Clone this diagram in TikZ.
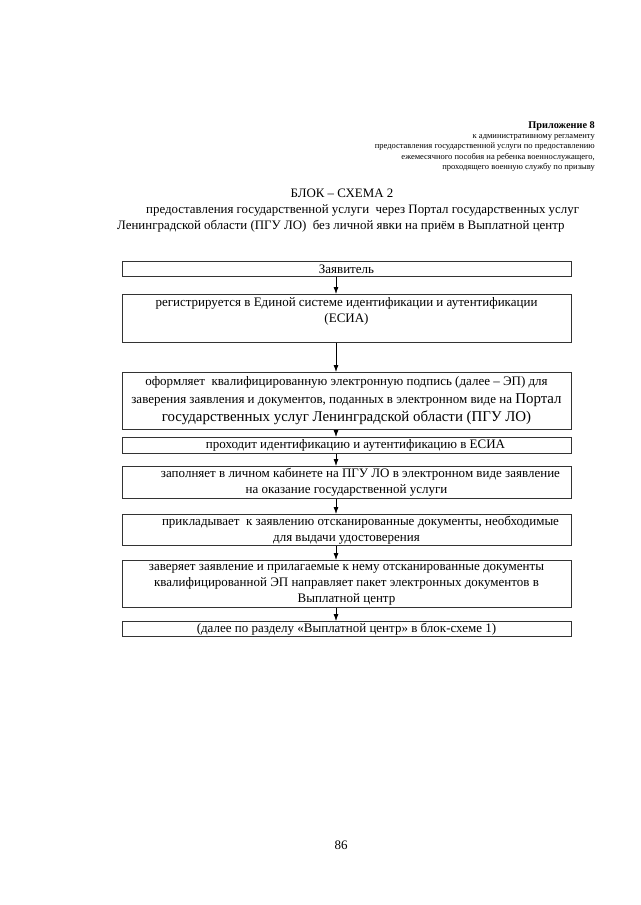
\documentclass[tikz,border=0pt]{standalone}
\usepackage{fontspec}
\setmainfont{Liberation Serif}
\usetikzlibrary{arrows.meta}
\tikzset{
  box/.style={draw=black!80, line width=0.8pt, minimum width=449pt, inner sep=0pt, anchor=north, align=center, font=\fontsize{13}{16}\selectfont},
  txt/.style={inner sep=0pt, align=center, font=\fontsize{13}{16}\selectfont},
  hdr/.style={inner sep=0pt, anchor=east, font=\fontsize{8.5}{9}\selectfont},
  ttl/.style={inner sep=0pt, font=\fontsize{12.9}{15}\selectfont},
  arr/.style={-{Latex[length=7pt,width=5pt]}, line width=0.8pt}
}
\begin{document}
\begin{tikzpicture}[x=1pt,y=-1pt]
\useasboundingbox (0,0) rectangle (640,905);
\fill[white] (0,0) rectangle (640,905);
% header
\node[hdr, font=\fontsize{10.3}{11}\bfseries] (h0) at (595,126) {Приложение 8};
\node[hdr] (h1) at (595,137) {к административному регламенту};
\node[hdr] (h2) at (595,147) {предоставления государственной услуги по предоставлению};
\node[hdr] (h3) at (595,157) {ежемесячного пособия на ребенка военнослужащего,};
\node[hdr] (h4) at (595,167) {проходящего военную службу по призыву};
% title
\node[ttl] (t0) at (342,193) {БЛОК – СХЕМА 2};
\node[ttl, anchor=west] (t1) at (146,210) {предоставления государственной услуги\ \ через Портал государственных услуг};
\node[ttl, anchor=west] (t2) at (117,226) {Ленинградской области (ПГУ ЛО)\ \ без личной явки на приём в Выплатной центр};
% boxes
\coordinate (ax) at (336,0);
\node[box, minimum height=15pt] (b1) at (346.5,261) {Заявитель};
\node[box, minimum height=48pt] (b2) at (346.5,294) {};
\node[txt, anchor=north] (b2t) at (346.5,297.5) {регистрируется в Единой системе идентификации и аутентификации\\(ЕСИА)};
\node[box, minimum height=57pt, font=\fontsize{13}{18}\selectfont] (b3) at (346.5,372) {оформляет\ \ квалифицированную электронную подпись (далее – ЭП) для\\заверения заявления и документов, поданных в электронном виде на {\fontsize{14.9}{18}\selectfont Портал}\\{\fontsize{14.9}{18}\selectfont государственных услуг Ленинградской области (ПГУ ЛО)}};
\node[box, minimum height=16pt] (b4) at (346.5,437) {\hspace*{18pt}проходит идентификацию и аутентификацию в ЕСИА};
\node[box, minimum height=32pt] (b5) at (346.5,466) {\hspace*{28pt}заполняет в личном кабинете на ПГУ ЛО в электронном виде заявление\\на оказание государственной услуги};
\node[box, minimum height=31pt] (b6) at (346.5,514) {\hspace*{28pt}прикладывает\ \ к заявлению отсканированные документы, необходимые\\для выдачи удостоверения};
\node[box, minimum height=47pt] (b7) at (346.5,560) {};
\node[txt, anchor=north] (b7t) at (346.5,562) {\vphantom{Б}заверяет заявление и прилагаемые к нему отсканированные документы\\квалифицированной ЭП направляет пакет электронных документов в\\Выплатной центр};
\node[box, minimum height=15pt] (b8) at (346.5,621) {(далее по разделу «Выплатной центр» в блок-схеме 1)};
% arrows
\draw[arr] (b1.south -| ax) -- (b2.north -| ax);
\draw[arr] (b2.south -| ax) -- (b3.north -| ax);
\draw[arr] (b3.south -| ax) -- (b4.north -| ax);
\draw[arr] (b4.south -| ax) -- (b5.north -| ax);
\draw[arr] (b5.south -| ax) -- (b6.north -| ax);
\draw[arr] (b6.south -| ax) -- (b7.north -| ax);
\draw[arr] (b7.south -| ax) -- (b8.north -| ax);
% page number
\node[txt] (pn) at (341,845) {86};
\end{tikzpicture}
\end{document}
